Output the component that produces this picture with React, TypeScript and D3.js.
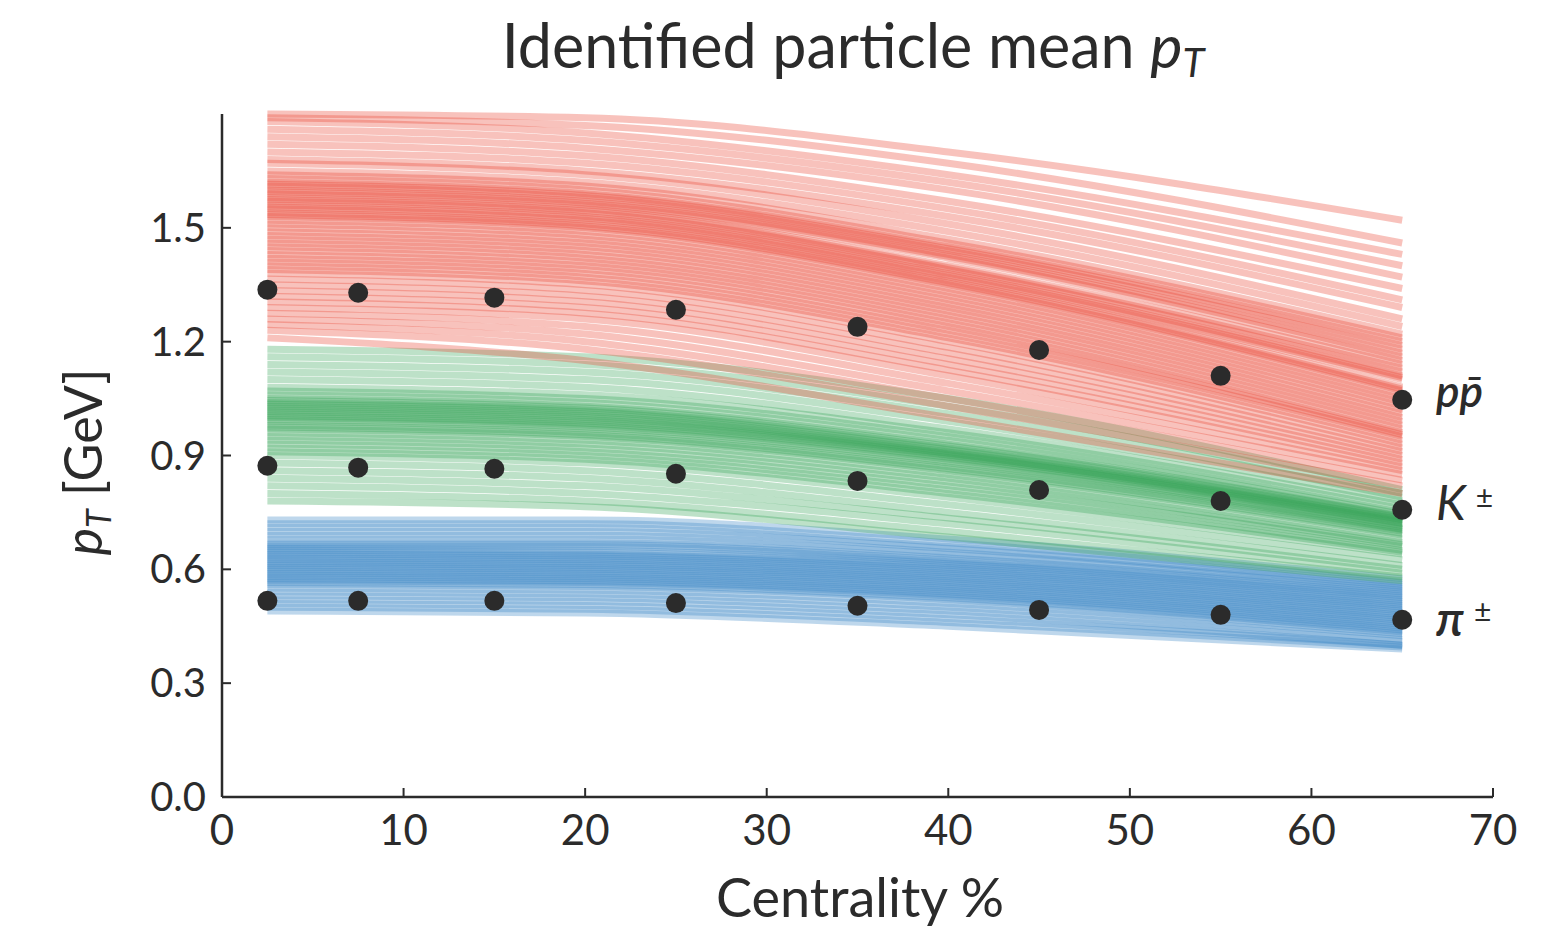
import React from "react";
import * as d3 from "d3";

// Centrality bins of the measured points
const centrality = [2.5, 7.5, 15, 25, 35, 45, 55, 65];
// Measured mean pT [GeV]
const protonData = [1.337, 1.329, 1.316, 1.284, 1.239, 1.178, 1.11, 1.047];
const protonErr = [0.018, 0.015, 0.02, 0.022, 0.024, 0.015, 0.012, 0.012];
const kaonData = [0.873, 0.868, 0.865, 0.852, 0.833, 0.809, 0.78, 0.757];
const kaonErr = [0.01, 0.01, 0.01, 0.012, 0.012, 0.01, 0.01, 0.01];
const pionData = [0.517, 0.517, 0.517, 0.511, 0.504, 0.493, 0.48, 0.467];
const pionErr = [0.006, 0.006, 0.006, 0.006, 0.006, 0.006, 0.006, 0.006];

// Model curves: values at these centrality knots
const curveKnots = [2.5, 20, 40, 65];
const protonCurves = [
  [1.80, 1.79, 1.70, 1.52], [1.79, 1.77, 1.67, 1.46], [1.78, 1.75, 1.64, 1.43],
  [1.76, 1.73, 1.62, 1.40], [1.74, 1.71, 1.60, 1.37], [1.72, 1.69, 1.57, 1.34],
  [1.70, 1.67, 1.55, 1.31], [1.68, 1.65, 1.53, 1.29], [1.67, 1.64, 1.51, 1.26],
  [1.65, 1.62, 1.49, 1.24], [1.64, 1.61, 1.47, 1.22], [1.63, 1.60, 1.46, 1.21],
  [1.62, 1.59, 1.45, 1.20], [1.615, 1.585, 1.445, 1.19], [1.61, 1.58, 1.44, 1.18],
  [1.60, 1.57, 1.43, 1.17], [1.595, 1.565, 1.425, 1.16], [1.59, 1.56, 1.42, 1.15],
  [1.58, 1.55, 1.40, 1.14], [1.575, 1.545, 1.395, 1.13], [1.57, 1.54, 1.39, 1.12],
  [1.56, 1.53, 1.38, 1.11], [1.555, 1.525, 1.375, 1.105], [1.55, 1.52, 1.37, 1.10],
  [1.54, 1.51, 1.36, 1.08], [1.535, 1.505, 1.355, 1.075], [1.53, 1.50, 1.35, 1.07],
  [1.52, 1.49, 1.34, 1.06], [1.51, 1.48, 1.33, 1.05], [1.50, 1.47, 1.32, 1.04],
  [1.49, 1.46, 1.31, 1.03], [1.48, 1.45, 1.30, 1.02], [1.47, 1.44, 1.29, 1.01],
  [1.46, 1.43, 1.28, 1.00], [1.45, 1.42, 1.27, 0.99], [1.44, 1.41, 1.26, 0.98],
  [1.43, 1.40, 1.25, 0.97], [1.42, 1.39, 1.24, 0.96], [1.41, 1.38, 1.23, 0.955],
  [1.40, 1.37, 1.22, 0.95], [1.39, 1.36, 1.21, 0.94], [1.38, 1.35, 1.20, 0.93],
  [1.365, 1.335, 1.185, 0.92], [1.35, 1.32, 1.17, 0.91], [1.335, 1.305, 1.155, 0.90],
  [1.32, 1.29, 1.14, 0.89], [1.305, 1.275, 1.125, 0.88], [1.29, 1.26, 1.11, 0.87],
  [1.275, 1.24, 1.09, 0.86], [1.26, 1.22, 1.07, 0.85], [1.245, 1.20, 1.05, 0.835],
  [1.23, 1.18, 1.03, 0.82], [1.21, 1.15, 1.00, 0.80],
];
const kaonCurves = [
  [1.18, 1.16, 1.05, 0.81], [1.16, 1.14, 1.03, 0.80], [1.14, 1.12, 1.01, 0.79],
  [1.12, 1.10, 0.99, 0.78], [1.10, 1.08, 0.97, 0.77], [1.08, 1.06, 0.96, 0.76],
  [1.07, 1.05, 0.95, 0.75], [1.06, 1.04, 0.94, 0.745], [1.05, 1.03, 0.93, 0.74],
  [1.045, 1.025, 0.925, 0.738], [1.04, 1.02, 0.92, 0.735], [1.035, 1.015, 0.915, 0.732],
  [1.03, 1.01, 0.91, 0.73], [1.025, 1.005, 0.907, 0.727], [1.02, 1.00, 0.905, 0.725],
  [1.015, 0.995, 0.902, 0.722], [1.01, 0.99, 0.90, 0.72], [1.005, 0.985, 0.895, 0.715],
  [1.00, 0.98, 0.89, 0.71], [0.995, 0.975, 0.885, 0.707], [0.99, 0.97, 0.88, 0.705],
  [0.98, 0.96, 0.87, 0.70], [0.975, 0.955, 0.865, 0.695], [0.97, 0.95, 0.86, 0.69],
  [0.96, 0.94, 0.85, 0.68], [0.95, 0.93, 0.84, 0.67], [0.94, 0.92, 0.83, 0.665],
  [0.93, 0.91, 0.82, 0.66], [0.92, 0.90, 0.81, 0.65], [0.91, 0.89, 0.80, 0.645],
  [0.90, 0.88, 0.79, 0.64], [0.88, 0.86, 0.77, 0.625], [0.86, 0.84, 0.75, 0.61],
  [0.84, 0.82, 0.735, 0.60], [0.82, 0.80, 0.72, 0.59], [0.80, 0.78, 0.70, 0.58],
  [0.78, 0.765, 0.685, 0.57],
];
const pionCurves = [
  [0.73, 0.73, 0.68, 0.575], [0.72, 0.72, 0.67, 0.565], [0.71, 0.71, 0.66, 0.56],
  [0.70, 0.70, 0.655, 0.555], [0.69, 0.69, 0.645, 0.55], [0.68, 0.68, 0.64, 0.545],
  [0.67, 0.67, 0.63, 0.54], [0.665, 0.665, 0.625, 0.535], [0.66, 0.66, 0.62, 0.53],
  [0.655, 0.65, 0.615, 0.525], [0.65, 0.645, 0.61, 0.52], [0.645, 0.64, 0.605, 0.515],
  [0.64, 0.635, 0.60, 0.51], [0.635, 0.63, 0.595, 0.505], [0.63, 0.625, 0.59, 0.50],
  [0.625, 0.62, 0.585, 0.495], [0.62, 0.615, 0.58, 0.49], [0.615, 0.61, 0.575, 0.485],
  [0.61, 0.605, 0.57, 0.48], [0.605, 0.60, 0.565, 0.475], [0.60, 0.595, 0.56, 0.47],
  [0.595, 0.59, 0.555, 0.465], [0.59, 0.585, 0.55, 0.46], [0.585, 0.58, 0.545, 0.455],
  [0.58, 0.575, 0.54, 0.45], [0.575, 0.57, 0.535, 0.445], [0.57, 0.565, 0.53, 0.44],
  [0.565, 0.56, 0.525, 0.435], [0.56, 0.555, 0.52, 0.43], [0.55, 0.545, 0.51, 0.425],
  [0.54, 0.535, 0.50, 0.415], [0.53, 0.525, 0.49, 0.41], [0.52, 0.515, 0.48, 0.40],
  [0.51, 0.505, 0.47, 0.40], [0.50, 0.495, 0.46, 0.395], [0.49, 0.485, 0.45, 0.39],
];

const xTicks = [0, 10, 20, 30, 40, 50, 60, 70];
const yTicks = [0.0, 0.3, 0.6, 0.9, 1.2, 1.5];

const W = 1562;
const H = 931;
const FONT = "Lato, 'Open Sans', sans-serif";
const INK = "#2b2b2b";

export default function App() {
  const x = d3.scaleLinear().domain([0, 70]).range([222, 1493]);
  const y = d3.scaleLinear().domain([0, 1.8]).range([797, 114]);
  const line = d3
    .line<number>()
    .x((_, i) => x(curveKnots[i]))
    .y((d) => y(d))
    .curve(d3.curveMonotoneX);

  const groups = [
    { curves: pionCurves, color: "#3b87c5", data: pionData, err: pionErr },
    { curves: kaonCurves, color: "#36a457", data: kaonData, err: kaonErr },
    { curves: protonCurves, color: "#ea4634", data: protonData, err: protonErr },
  ];

  return (
    <svg
      width={W}
      height={H}
      style={{ position: "absolute", left: 0, top: 0, background: "#fff" }}
      fontFamily={FONT}
    >
      {/* title */}
      <text x={853} y={68} textAnchor="middle" fontSize={61} fill={INK}>
        Identified particle mean{" "}
        <tspan fontStyle="italic">p</tspan>
        <tspan fontStyle="italic" fontSize={40} dy={9}>T</tspan>
      </text>

      {/* model curves */}
      {groups.map((g, gi) => (
        <g key={gi}>
          {g.curves.map((c, ci) => (
            <path
              key={ci}
              d={line(c) || ""}
              fill="none"
              stroke={g.color}
              strokeWidth={7}
              strokeOpacity={0.33}
            />
          ))}
        </g>
      ))}

      {/* data points */}
      {groups.map((g, gi) => (
        <g key={"d" + gi}>
          {g.data.map((v, i) => (
            <g key={i}>
              <line
                x1={x(centrality[i])}
                x2={x(centrality[i])}
                y1={y(v - g.err[i])}
                y2={y(v + g.err[i])}
                stroke={INK}
                strokeWidth={3}
              />
              <circle cx={x(centrality[i])} cy={y(v)} r={10} fill={INK} />
            </g>
          ))}
        </g>
      ))}

      {/* axes */}
      <line x1={222} x2={222} y1={y(1.8)} y2={y(0)} stroke={INK} strokeWidth={2.5} />
      <line x1={222} x2={x(70)} y1={797} y2={797} stroke={INK} strokeWidth={2.5} />
      {xTicks.map((t) => (
        <g key={"x" + t}>
          <line x1={x(t)} x2={x(t)} y1={797} y2={788} stroke={INK} strokeWidth={2} />
          <text x={x(t)} y={845} textAnchor="middle" fontSize={42} fill={INK}>
            {t}
          </text>
        </g>
      ))}
      {yTicks.map((t) => (
        <g key={"y" + t}>
          <line x1={222} x2={231} y1={y(t)} y2={y(t)} stroke={INK} strokeWidth={2} />
          <text x={206} y={y(t) + 14} textAnchor="end" fontSize={40} fill={INK}>
            {t.toFixed(1)}
          </text>
        </g>
      ))}

      {/* axis labels */}
      <text x={860} y={917} textAnchor="middle" fontSize={54} fill={INK}>
        Centrality %
      </text>
      <text
        transform={`translate(102, 462) rotate(-90)`}
        textAnchor="middle"
        fontSize={52}
        fill={INK}
      >
        <tspan fontStyle="italic">p</tspan>
        <tspan fontStyle="italic" fontSize={34} dy={9}>T</tspan>
        <tspan dy={-9}> [GeV]</tspan>
      </text>

      {/* species labels */}
      <text x={1436} y={407} fontSize={44} fontStyle="italic" fontWeight={600} fill={INK}>
        p
        <tspan>p̄</tspan>
      </text>
      <text x={1436} y={520} fontSize={48} fontStyle="italic" fill={INK}>
        K
        <tspan fontSize={30} fontStyle="normal" dx={10} dy={-12}>±</tspan>
      </text>
      <text x={1436} y={636} fontSize={48} fontStyle="italic" fontWeight={600} fill={INK}>
        π
        <tspan fontSize={30} fontStyle="normal" fontWeight={400} dx={10} dy={-14}>±</tspan>
      </text>
    </svg>
  );
}
